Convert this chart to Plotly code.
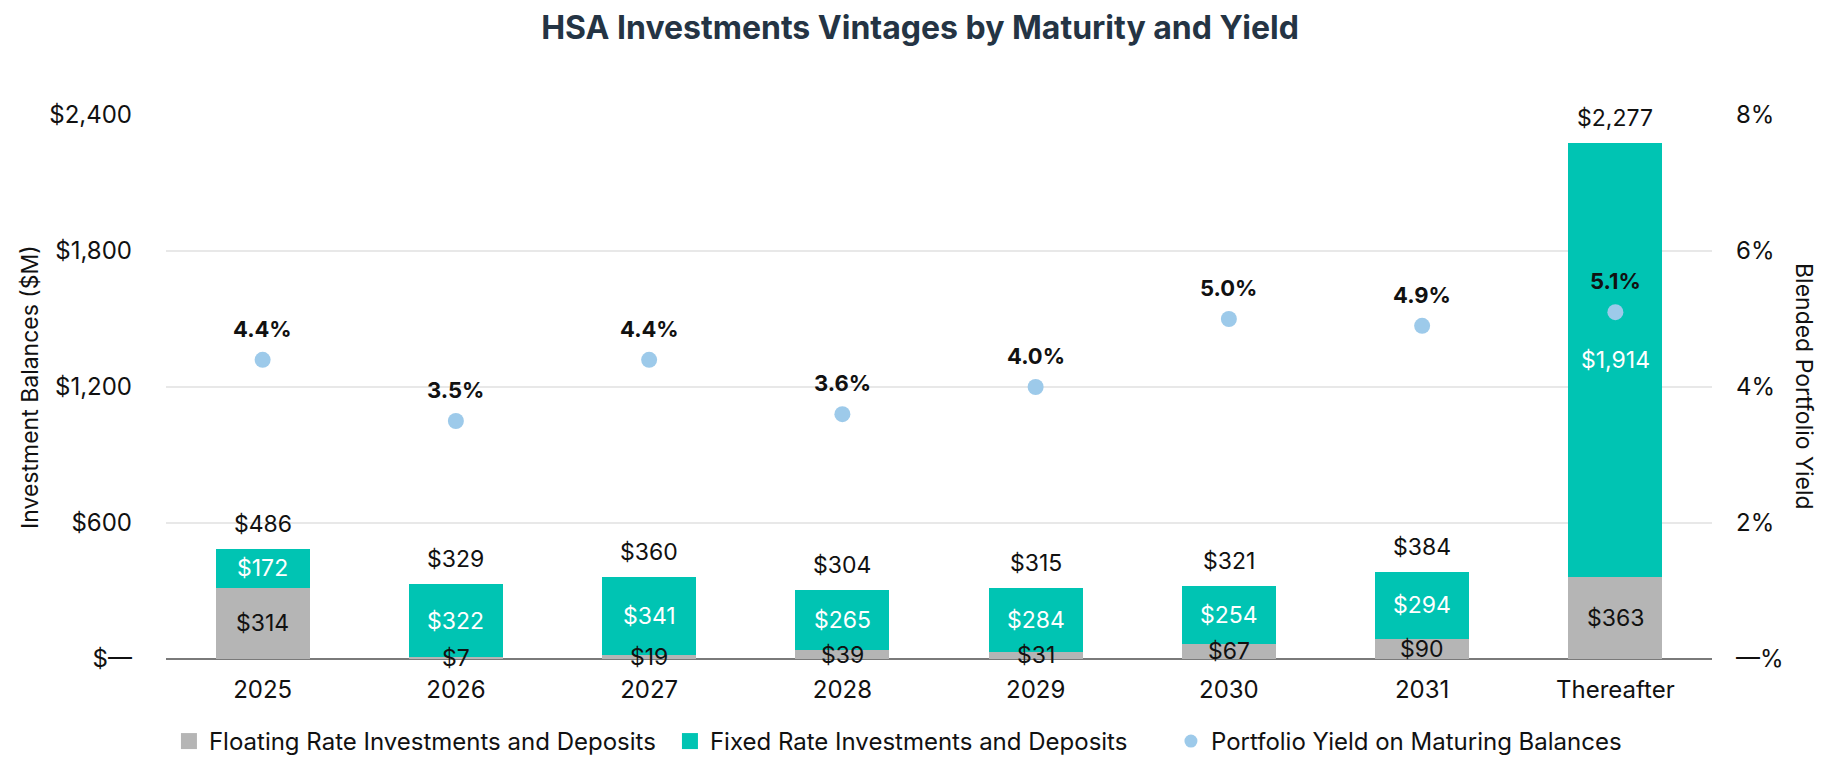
import plotly.graph_objects as go

categories = ["2025", "2026", "2027", "2028", "2029", "2030", "2031", "Thereafter"]
floating = [314, 7, 19, 39, 31, 67, 90, 363]
fixed = [172, 322, 341, 265, 284, 254, 294, 1914]
totals = [486, 329, 360, 304, 315, 321, 384, 2277]
yields = [4.4, 3.5, 4.4, 3.6, 4.0, 5.0, 4.9, 5.1]

left_ticks = [0, 600, 1200, 1800, 2400]
left_labels = ["$\u2014", "$600", "$1,200", "$1,800", "$2,400"]
right_ticks = [0, 2, 4, 6, 8]
right_labels = ["\u2014%", "2%", "4%", "6%", "8%"]

names = ["Floating Rate Investments and Deposits", "Fixed Rate Investments and Deposits",
         "Portfolio Yield on Maturing Balances"]

GRAY = "#b5b5b5"
TEAL = "#00c4b3"
DOT = "#9dcaea"
FONT = "Inter"
TXT = "#111111"

fig = go.Figure()
fig.add_trace(go.Bar(x=categories, y=floating, name=names[0], showlegend=False,
                     marker=dict(color=GRAY, line=dict(width=0)), width=0.487))
fig.add_trace(go.Bar(x=categories, y=fixed, name=names[1], showlegend=False,
                     marker=dict(color=TEAL, line=dict(width=0)), width=0.487))
fig.add_trace(go.Scatter(x=categories, y=yields, name=names[2], showlegend=False,
                         mode="markers", yaxis="y2", marker=dict(color=DOT, size=16)))

# legend-only entries so the swatches can be bigger than plotly's bar icon
for name, color, symbol, size in [(names[0], GRAY, "square", 16), (names[1], TEAL, "square", 16),
                                  (names[2], DOT, "circle", 13)]:
    fig.add_trace(go.Scatter(x=[None], y=[None], mode="markers", name=name,
                             marker=dict(color=color, symbol=symbol, size=size)))

annotations = []
# category axis: annotations are placed by category index (numeric-looking names would be read as indices)
for i, (fl, fx, tot, yl) in enumerate(zip(floating, fixed, totals, yields)):
    annotations.append(dict(x=i, y=fl / 2, text=f"${fl:,}", showarrow=False,
                            font=dict(color=TXT, size=23, family=FONT)))
    annotations.append(dict(x=i, y=fl + fx / 2, text=f"${fx:,}", showarrow=False,
                            font=dict(color="white", size=23, family=FONT)))
    annotations.append(dict(x=i, y=tot, text=f"${tot:,}", showarrow=False, yshift=25,
                            font=dict(color=TXT, size=23, family=FONT)))
    annotations.append(dict(x=i, y=yl, yref="y2", text=f"<b>{yl:.1f}%</b>", showarrow=False,
                            yshift=31, font=dict(color=TXT, size=22, family=FONT)))

annotations.append(dict(xref="paper", yref="paper", x=-0.088, y=0.5, text="Investment Balances ($M)",
                        textangle=-90, showarrow=False, xanchor="center", yanchor="middle",
                        font=dict(color=TXT, size=23, family=FONT)))
annotations.append(dict(xref="paper", yref="paper", x=1.0595, y=0.5, text="Blended Portfolio Yield",
                        textangle=90, showarrow=False, xanchor="center", yanchor="middle",
                        font=dict(color=TXT, size=23, family=FONT)))

fig.update_layout(
    width=1824, height=768,
    barmode="stack",
    plot_bgcolor="white", paper_bgcolor="white",
    margin=dict(l=158, r=120, t=107, b=107),
    font=dict(family=FONT, size=23, color=TXT),
    title=dict(text="<b>HSA Investments Vintages by Maturity and Yield</b>",
               x=0.5, xanchor="center", y=1 - 20 / 768, yanchor="middle", yref="container",
               font=dict(size=32, color="#243444", family=FONT)),
    xaxis=dict(type="category", range=[-0.5, len(categories) - 0.5], showgrid=False, ticks="",
               tickfont=dict(size=24), showline=False, ticklabelstandoff=14),
    yaxis=dict(range=[0, 2400], tickvals=left_ticks, ticktext=left_labels,
               showgrid=True, gridcolor="#e8e8e8", gridwidth=1.5,
               zeroline=True, zerolinecolor="#7a7a7a", zerolinewidth=2,
               ticks="", tickfont=dict(size=24), automargin=False, ticklabelstandoff=33),
    yaxis2=dict(range=[0, 8], overlaying="y", side="right", tickvals=right_ticks, ticktext=right_labels,
                showgrid=False, zeroline=False, ticks="", tickfont=dict(size=24), automargin=False,
                ticklabelstandoff=23),
    legend=dict(orientation="h", x=0.488, xanchor="center", y=-0.1516, yanchor="middle",
                font=dict(size=24), traceorder="normal", entrywidth=456),
    annotations=annotations,
)

fig.write_html("out.html")
